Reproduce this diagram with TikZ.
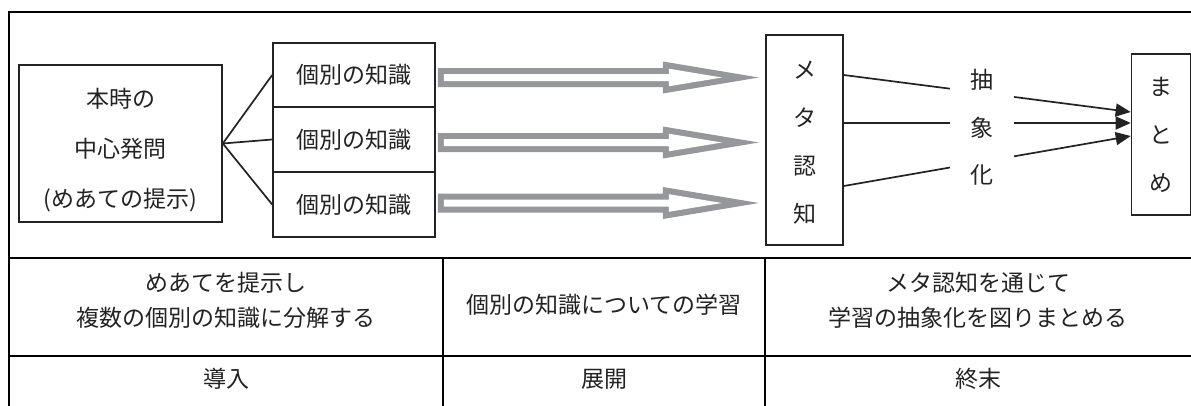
\documentclass[tikz,border=0pt]{standalone}
\usepackage{fontspec}
\setmainfont{Noto Sans CJK JP}
\usetikzlibrary{arrows.meta}
\definecolor{arrowgray}{RGB}{150,151,155}
\definecolor{ink}{RGB}{35,35,35}
\tikzset{
  box/.style={draw=ink, line width=1.6pt, inner sep=0pt, align=center, text=ink},
  lbl/.style={inner sep=0pt, align=center, text=ink},
  tablerule/.style={line width=2.2pt, black},
  link/.style={draw=ink, line width=1.7pt},
  tipped/.style={-{Triangle[length=15pt,width=13pt]}},
  hollowout/.style={fill=arrowgray},
  hollowin/.style={fill=white},
}
\newcommand\hollowarrow[2]{%
  \begin{scope}[shift={([xshift=2pt]#1.east)}]
    \path[hollowout] (0,#2-9.5) -- (225,#2-9.5) -- (225,#2-16) -- (321,#2) -- (225,#2+16) -- (225,#2+9.5) -- (0,#2+9.5) -- cycle;
    \path[hollowin] (6,#2-3.5) -- (231,#2-3.5) -- (231,#2-8.8) -- (284,#2) -- (231,#2+8.8) -- (231,#2+3.5) -- (6,#2+3.5) -- cycle;
  \end{scope}}
\begin{document}
\begin{tikzpicture}[x=1pt,y=-1pt]
\useasboundingbox (0,0) rectangle (1191,405);
\clip (0,0) rectangle (1191,405);
\fill[white] (0,0) rectangle (1191,405);

% frame and table rules
\draw[tablerule] (1200,12) -- (9,12) -- (9,415);
\draw[tablerule] (9,258) -- (1200,258);
\draw[tablerule] (9,356) -- (1200,356);
\draw[tablerule] (443,258) -- (443,415);
\draw[tablerule] (765,258) -- (765,415);

% left question box
\node[box, minimum width=203pt, minimum height=157pt] (q) at (120.5,143.5) {};
\node[lbl, font=\fontsize{23}{50}\selectfont] (qt) at (120.5,150) {本時の\\中心発問\\(めあての提示)};

% knowledge boxes
\node[box, minimum width=162pt, minimum height=64.5pt, font=\fontsize{23}{28}\selectfont] (k1) at (354,75) {個別の知識};
\node[box, minimum width=162pt, minimum height=64.5pt, font=\fontsize{23}{28}\selectfont] (k2) at (354,139.5) {個別の知識};
\node[box, minimum width=162pt, minimum height=64.5pt, font=\fontsize{23}{28}\selectfont] (k3) at (354,204.5) {個別の知識};

\draw[link] (q.east) -- (k1.west);
\draw[link] (q.east) -- (k2.west);
\draw[link] (q.east) -- (k3.west);

% meta-cognition box
\node[box, minimum width=77pt, minimum height=210pt] (meta) at (804.5,140) {};
\node[lbl, font=\fontsize{23}{48}\selectfont] (metat) at (meta.center) [yshift=-3pt] {メ\\タ\\認\\知};

% summary box
\node[box, minimum width=59pt, minimum height=161pt, font=\fontsize{23}{48}\selectfont] (sum) at (1161,134.5) {ま\\と\\め};

% hollow gray arrows
\hollowarrow{k1}{2.5}
\hollowarrow{k2}{3}
\hollowarrow{k3}{-1.5}

% arrows meta -> summary
\draw[link, tipped] ([yshift=65pt]meta.east) -- ([yshift=22.5pt]sum.west);
\draw[link, tipped] ([yshift=17pt]meta.east) -- ([yshift=11.5pt]sum.west);
\draw[link, tipped] ([yshift=-46pt]meta.east) -- ([yshift=-1.5pt]sum.west);

% abstraction label over the lines
\node[lbl, fill=white, minimum width=64pt, inner ysep=2pt, font=\fontsize{23}{47.5}\selectfont] (abs) at (982,127.5) {抽\\象\\化};

% table texts
\node[lbl, font=\fontsize{23}{28}\selectfont] (t1a) at (226,283) {めあてを提示し};
\node[lbl, font=\fontsize{23}{28}\selectfont] (t1b) at (226,318) {複数の個別の知識に分解する};
\node[lbl, font=\fontsize{23}{28}\selectfont] (t2) at (604,305) {個別の知識についての学習};
\node[lbl, font=\fontsize{23}{28}\selectfont] (t3a) at (978,283) {メタ認知を通じて};
\node[lbl, font=\fontsize{23}{28}\selectfont] (t3b) at (978,318) {学習の抽象化を図りまとめる};
\node[lbl, font=\fontsize{23}{28}\selectfont] (p1) at (226,379) {導入};
\node[lbl, font=\fontsize{23}{28}\selectfont] (p2) at (604,379) {展開};
\node[lbl, font=\fontsize{23}{28}\selectfont] (p3) at (978,379) {終末};
\end{tikzpicture}
\end{document}
